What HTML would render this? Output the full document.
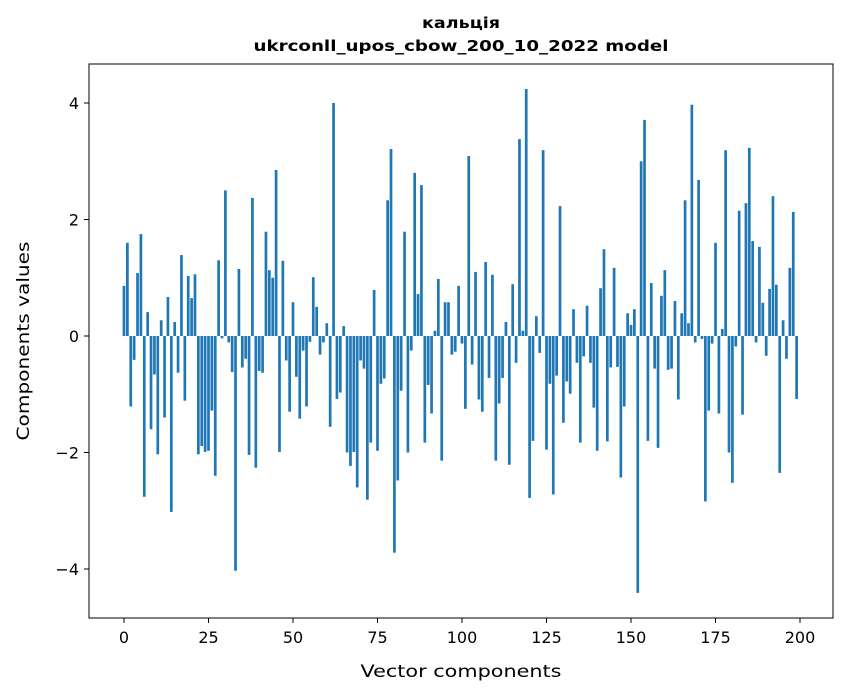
<!DOCTYPE html>
<html><head><meta charset="utf-8"><style>
body{margin:0;background:#fff;font-family:"DejaVu Sans","Liberation Sans",sans-serif}
svg text{font-family:"DejaVu Sans","Liberation Sans",sans-serif}
</style></head><body>
<svg id="chart" width="847" height="696">
<rect width="847" height="696" fill="#fff"/>
<text x="461" y="28" text-anchor="middle" font-size="15" font-weight="bold" textLength="78" lengthAdjust="spacingAndGlyphs">кальція</text>
<text x="461" y="51" text-anchor="middle" font-size="15" font-weight="bold" textLength="415" lengthAdjust="spacingAndGlyphs">ukrconll_upos_cbow_200_10_2022 model</text>
<g id="bars"></g>
<g id="xticks"></g>
<g id="yticks"></g>
<rect x="89" y="64" width="744" height="554" fill="none" stroke="#000" stroke-width="1"/>
<text x="461" y="677" text-anchor="middle" font-size="17" textLength="201" lengthAdjust="spacingAndGlyphs">Vector components</text>
<text transform="translate(29,341) rotate(-90)" text-anchor="middle" font-size="17" textLength="199" lengthAdjust="spacingAndGlyphs">Components values</text>
</svg>
<script>
const values=[0.86,1.6,-1.21,-0.41,1.08,1.75,-2.76,0.41,-1.6,-0.66,-2.03,0.27,-1.4,0.67,-3.02,0.24,-0.63,1.39,-1.11,1.03,0.65,1.06,-2.03,-1.89,-1.99,-1.97,-1.28,-2.4,1.3,-0.04,2.5,-0.11,-0.62,-4.03,1.15,-0.54,-0.39,-2.04,2.37,-2.26,-0.6,-0.63,1.79,1.13,1.0,2.85,-1.99,1.29,-0.42,-1.3,
0.58,-0.7,-1.42,-0.25,-1.21,-0.1,1.01,0.5,-0.32,-0.11,0.22,-1.56,4.0,-1.08,-0.97,0.17,-2.0,-2.23,-1.99,-2.6,-0.42,-0.56,-2.81,-1.83,0.79,-1.97,-0.82,-0.73,2.33,3.21,-3.72,-2.48,-0.94,1.79,-2.0,-0.25,2.8,0.72,2.59,-1.83,-0.84,-1.33,0.09,0.98,-2.14,0.58,0.58,-0.32,-0.27,0.86,
-0.13,-1.25,3.09,-0.49,1.1,-1.09,-1.3,1.27,-0.72,1.05,-2.14,-1.16,-0.72,0.24,-2.21,0.89,-0.46,3.38,0.09,4.24,-2.78,-1.8,0.34,-0.29,3.19,-1.95,-0.82,-2.72,-0.68,2.23,-1.49,-0.78,-0.99,0.46,-0.46,-1.83,-0.35,0.52,-0.46,-1.23,-1.97,0.82,1.49,-1.81,-0.54,1.17,-0.53,-2.43,-1.21,0.39,
0.19,0.46,-4.41,3.0,3.71,-1.8,0.91,-0.56,-1.92,0.69,1.13,-0.58,-0.56,0.6,-1.09,0.39,2.33,0.22,3.97,-0.11,2.68,-0.05,-2.84,-1.28,-0.13,1.6,-1.33,0.12,3.19,-2.0,-2.52,-0.18,2.15,-1.35,2.28,3.23,1.63,-0.11,1.53,0.57,-0.34,0.81,2.4,0.88,-2.35,0.27,-0.39,1.17,2.13,-1.08];
const xTicks=[0,25,50,75,100,125,150,175,200];
const yTicks=[-4,-2,0,2,4];
const yTickLabels=["\u22124","\u22122","0","2","4"];
const NS="http://www.w3.org/2000/svg";
function xs(v){return 124+v*3.38;}
function ys(v){return 336-v*58.25;}
const bars=document.getElementById('bars');
values.forEach((v,i)=>{
const r=document.createElementNS(NS,'rect');


const w=0.8*3.38;
r.setAttribute('x',xs(i)-w/2);r.setAttribute('width',w);
r.setAttribute('y',Math.min(ys(v),ys(0)));r.setAttribute('height',Math.abs(ys(v)-ys(0)));
r.setAttribute('fill','#1f77b4');bars.appendChild(r);});
const xg=document.getElementById('xticks');
xTicks.forEach(t=>{
const l=document.createElementNS(NS,'line');


l.setAttribute('x1',xs(t));l.setAttribute('x2',xs(t));l.setAttribute('y1',618);l.setAttribute('y2',623);l.setAttribute('stroke','#000');xg.appendChild(l);
const tx=document.createElementNS(NS,'text');


tx.setAttribute('x',xs(t));tx.setAttribute('y',643);tx.setAttribute('text-anchor','middle');tx.setAttribute('font-size','16');tx.textContent=t;xg.appendChild(tx);});
const yg=document.getElementById('yticks');
yTicks.forEach((t,i)=>{
const l=document.createElementNS(NS,'line');


l.setAttribute('x1',84);l.setAttribute('x2',89);l.setAttribute('y1',ys(t));l.setAttribute('y2',ys(t));l.setAttribute('stroke','#000');yg.appendChild(l);
const tx=document.createElementNS(NS,'text');


tx.setAttribute('x',79);tx.setAttribute('y',ys(t)+6);tx.setAttribute('text-anchor','end');tx.setAttribute('font-size','16');tx.textContent=yTickLabels[i];yg.appendChild(tx);});
</script>
</body></html>
